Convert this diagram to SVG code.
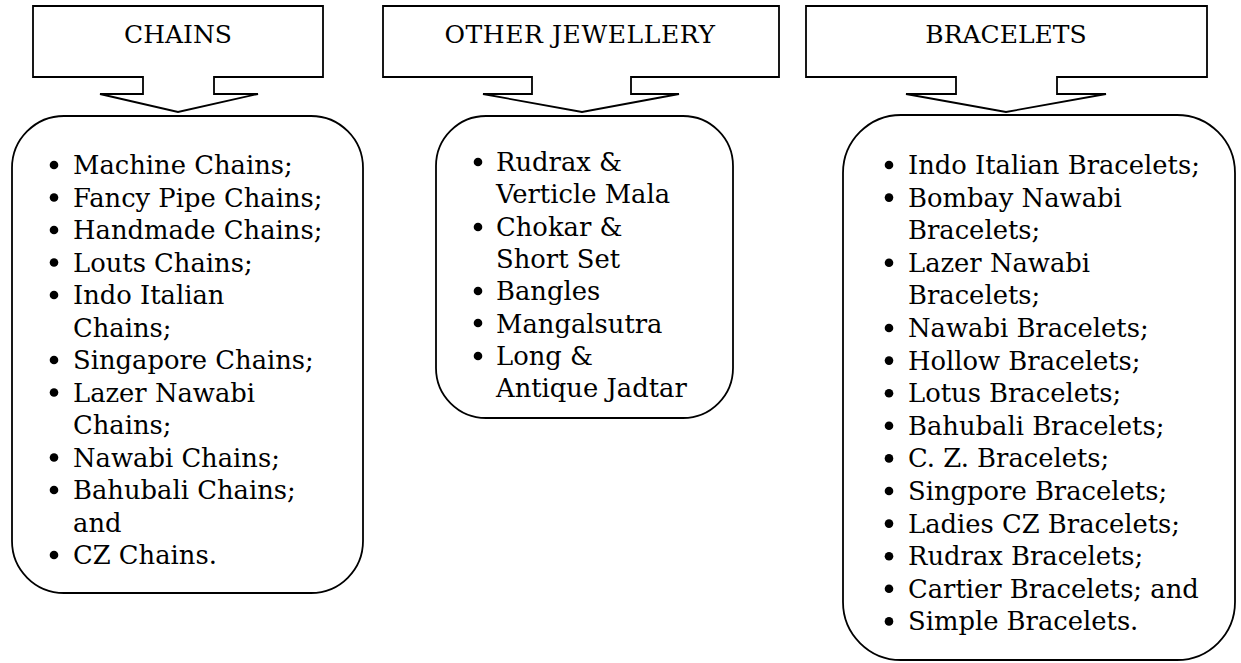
<svg xmlns="http://www.w3.org/2000/svg" width="1241" height="663" viewBox="0 0 1241 663">
<style>
.shape{fill:#fff;stroke:#000;stroke-width:1.8;stroke-linejoin:miter}
.box{fill:#fff;stroke:#000;stroke-width:1.8}
.hd{font-family:"DejaVu Serif","Liberation Serif",serif;font-size:25px;fill:#000;text-anchor:middle}
.hdw{letter-spacing:0.6px}
.it{font-family:"DejaVu Serif","Liberation Serif",serif;font-size:25.8px;fill:#000}
.bul{fill:#000}
</style>
<rect width="1241" height="663" fill="#fff"/>
<g id="chains-header">
<path class="shape" d="M33,6 H323 V77 H214 V94 H258 L178,112 L100,94 H143 V77 H33 Z"/>
<text class="hd" x="178" y="43">CHAINS</text>
</g>
<g id="other-header">
<path class="shape" d="M383,6 H779 V77 H631 V94 H679 L582,112 L483,94 H532 V77 H383 Z"/>
<text class="hd hdw" x="580" y="43">OTHER JEWELLERY</text>
</g>
<g id="bracelets-header">
<path class="shape" d="M806,6 H1207 V77 H1057 V94 H1106 L1006,112 L906,94 H956 V77 H806 Z"/>
<text class="hd" x="1006" y="43">BRACELETS</text>
</g>
<g id="connectors"></g>
<g id="chains-list">
<rect class="box" x="12" y="116" width="351" height="477" rx="52" ry="52"/>
<g class="bul">
<circle cx="54" cy="165" r="4.3"/><circle cx="54" cy="197.5" r="4.3"/><circle cx="54" cy="230" r="4.3"/><circle cx="54" cy="262.5" r="4.3"/><circle cx="54" cy="295" r="4.3"/><circle cx="54" cy="360" r="4.3"/><circle cx="54" cy="392.5" r="4.3"/><circle cx="54" cy="457.5" r="4.3"/><circle cx="54" cy="490" r="4.3"/><circle cx="54" cy="555" r="4.3"/>
</g>
<text class="it" x="73" y="174">Machine Chains;</text>
<text class="it" x="73" y="206.5">Fancy Pipe Chains;</text>
<text class="it" x="73" y="239">Handmade Chains;</text>
<text class="it" x="73" y="271.5">Louts Chains;</text>
<text class="it" x="73" y="304">Indo Italian</text>
<text class="it" x="73" y="336.5">Chains;</text>
<text class="it" x="73" y="369">Singapore Chains;</text>
<text class="it" x="73" y="401.5">Lazer Nawabi</text>
<text class="it" x="73" y="434">Chains;</text>
<text class="it" x="73" y="466.5">Nawabi Chains;</text>
<text class="it" x="73" y="499">Bahubali Chains;</text>
<text class="it" x="73" y="531.5">and</text>
<text class="it" x="73" y="564">CZ Chains.</text>
</g>
<g id="other-list">
<rect class="box" x="436" y="116" width="297" height="302" rx="50" ry="50"/>
<g class="bul">
<circle cx="478" cy="162" r="4.3"/><circle cx="478" cy="227" r="4.3"/><circle cx="478" cy="291" r="4.3"/><circle cx="478" cy="323" r="4.3"/><circle cx="478" cy="356" r="4.3"/>
</g>
<text class="it" x="496" y="171">Rudrax &amp;</text>
<text class="it" x="496" y="203.3">Verticle Mala</text>
<text class="it" x="496" y="235.6">Chokar &amp;</text>
<text class="it" x="496" y="267.9">Short Set</text>
<text class="it" x="496" y="300.2">Bangles</text>
<text class="it" x="496" y="332.5">Mangalsutra</text>
<text class="it" x="496" y="364.8">Long &amp;</text>
<text class="it" x="496" y="397.1">Antique Jadtar</text>
</g>
<g id="bracelets-list">
<rect class="box" x="843" y="115" width="392" height="545" rx="58" ry="58"/>
<g class="bul">
<circle cx="889" cy="165" r="4.3"/><circle cx="889" cy="197.6" r="4.3"/><circle cx="889" cy="262.8" r="4.3"/><circle cx="889" cy="328" r="4.3"/><circle cx="889" cy="360.6" r="4.3"/><circle cx="889" cy="393.2" r="4.3"/><circle cx="889" cy="425.8" r="4.3"/><circle cx="889" cy="458.4" r="4.3"/><circle cx="889" cy="491" r="4.3"/><circle cx="889" cy="523.6" r="4.3"/><circle cx="889" cy="556.2" r="4.3"/><circle cx="889" cy="588.8" r="4.3"/><circle cx="889" cy="621.4" r="4.3"/>
</g>
<text class="it" x="908" y="174">Indo Italian Bracelets;</text>
<text class="it" x="908" y="206.6">Bombay Nawabi</text>
<text class="it" x="908" y="239.2">Bracelets;</text>
<text class="it" x="908" y="271.8">Lazer Nawabi</text>
<text class="it" x="908" y="304.4">Bracelets;</text>
<text class="it" x="908" y="337">Nawabi Bracelets;</text>
<text class="it" x="908" y="369.6">Hollow Bracelets;</text>
<text class="it" x="908" y="402.2">Lotus Bracelets;</text>
<text class="it" x="908" y="434.8">Bahubali Bracelets;</text>
<text class="it" x="908" y="467.4">C. Z. Bracelets;</text>
<text class="it" x="908" y="500">Singpore Bracelets;</text>
<text class="it" x="908" y="532.6">Ladies CZ Bracelets;</text>
<text class="it" x="908" y="565.2">Rudrax Bracelets;</text>
<text class="it" x="908" y="597.8">Cartier Bracelets; and</text>
<text class="it" x="908" y="630.4">Simple Bracelets.</text>
</g>
</svg>
